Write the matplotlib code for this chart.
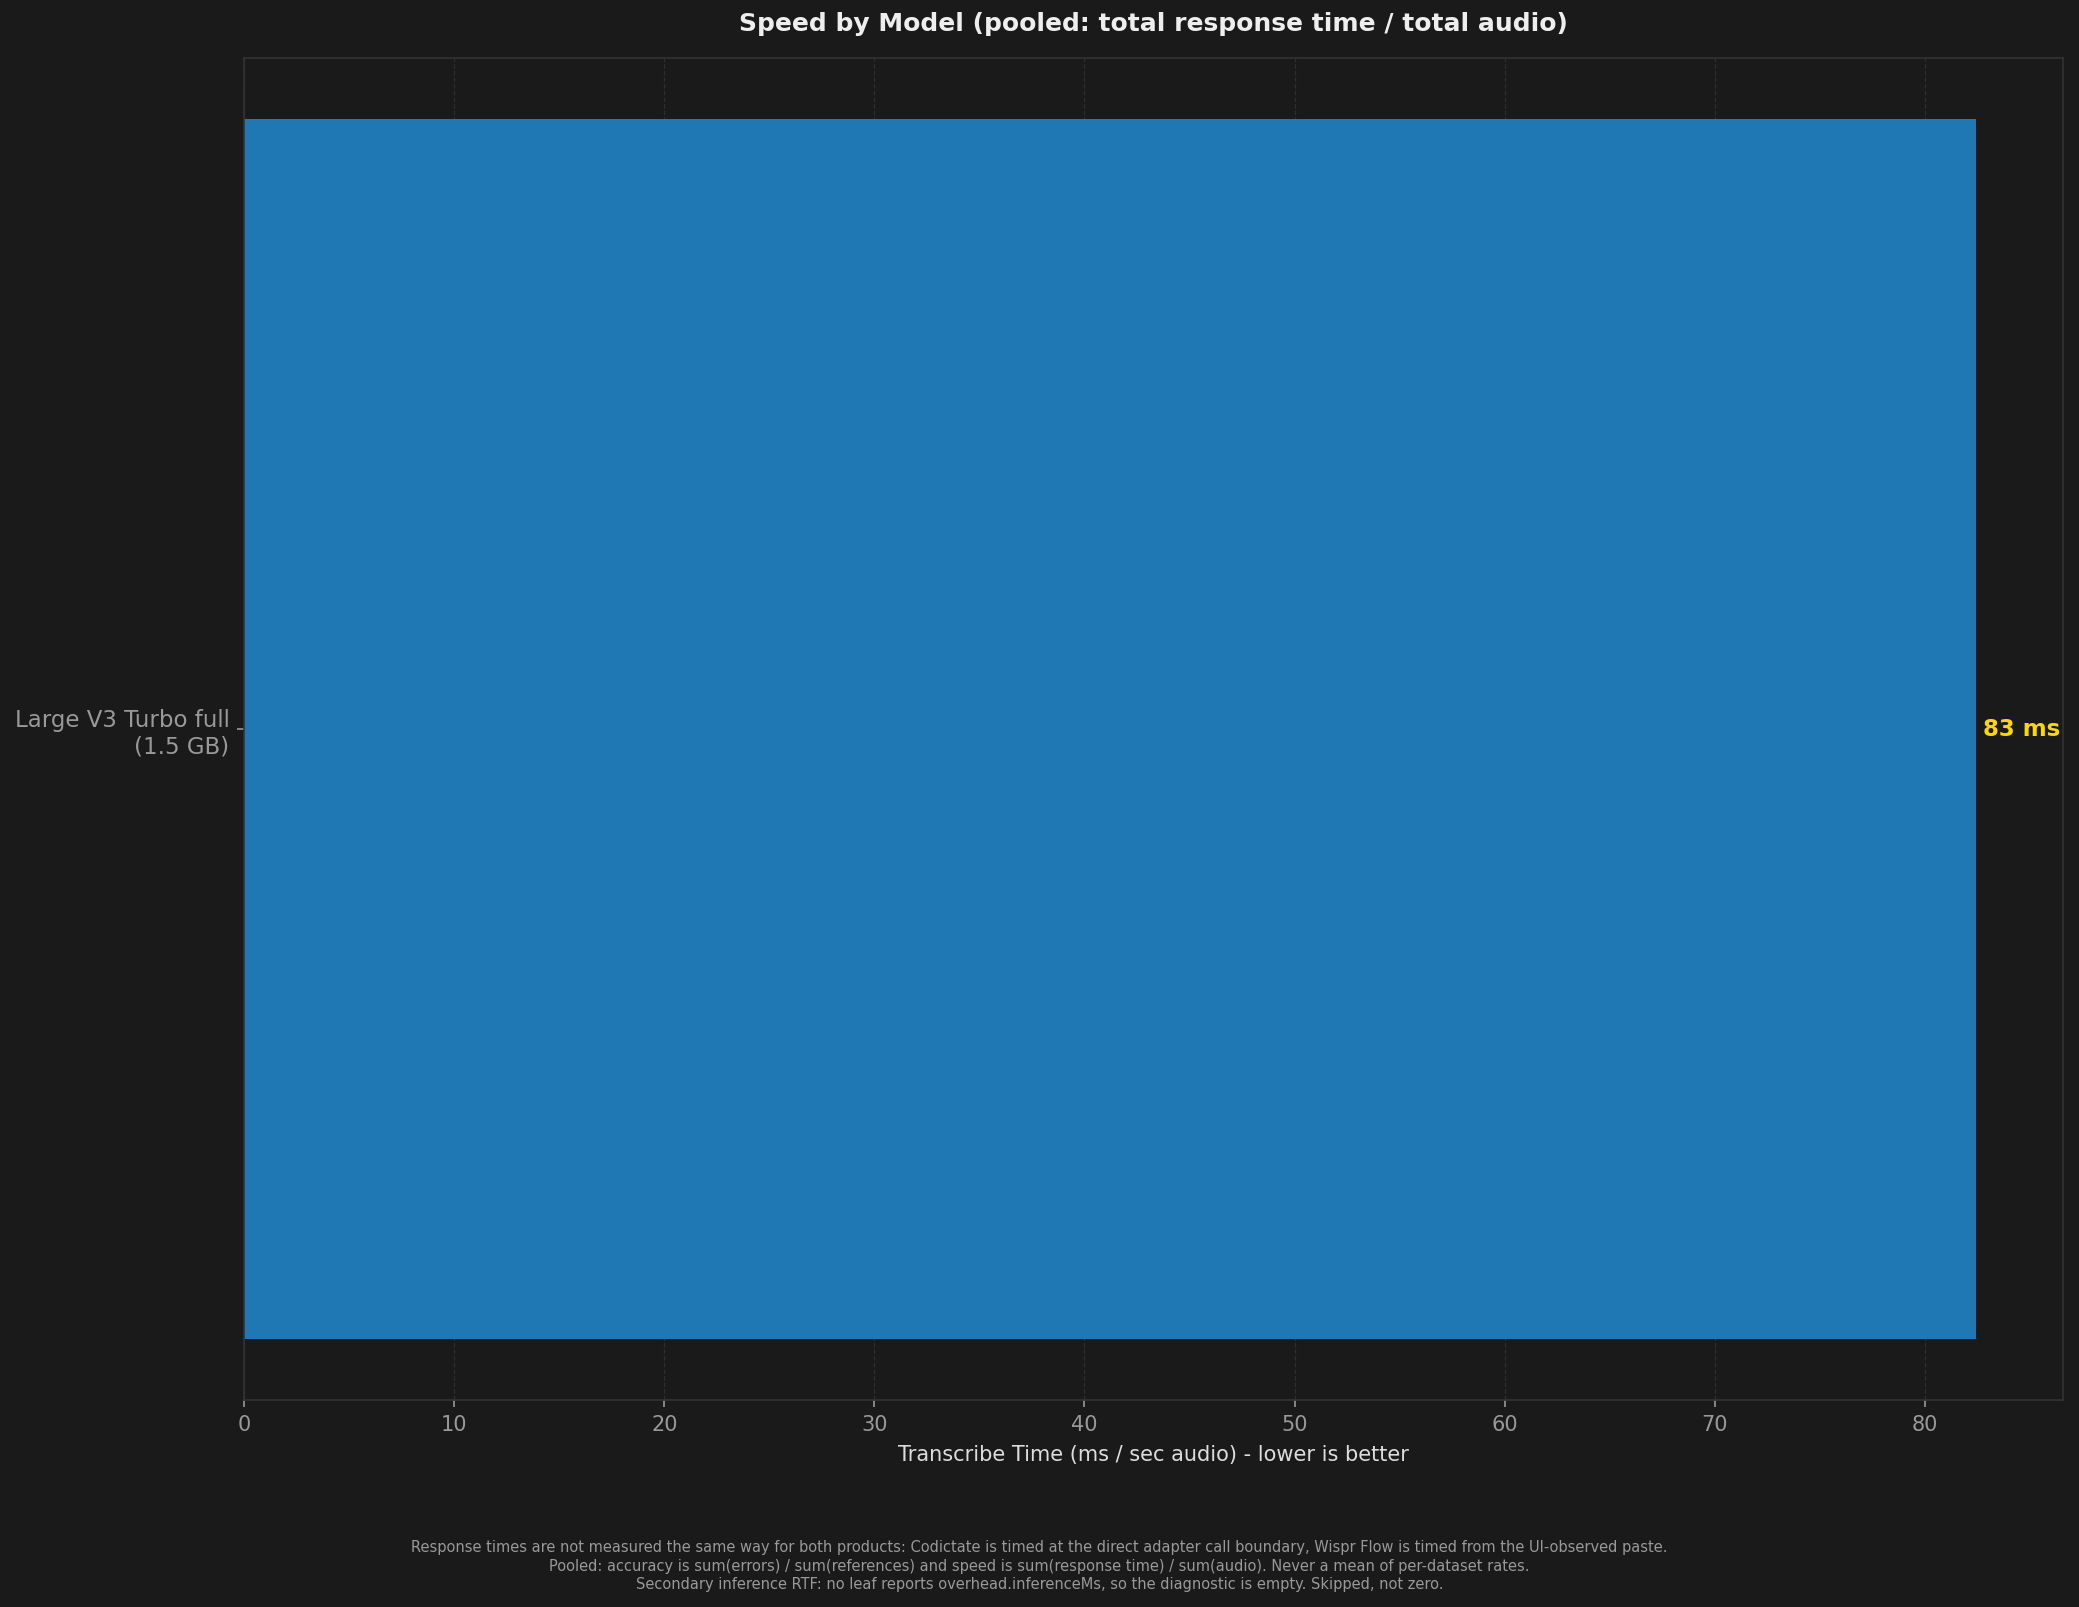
import matplotlib
matplotlib.use('Agg')
import matplotlib.pyplot as plt

# data
models = ['Large V3 Turbo full\n(1.5 GB)']
speed_ms = [82.45]
value_labels = ['83 ms']

footer = ("Response times are not measured the same way for both products: Codictate is timed at the direct "
          "adapter call boundary, Wispr Flow is timed from the UI-observed paste.\n"
          "Pooled: accuracy is sum(errors) / sum(references) and speed is sum(response time) / sum(audio). "
          "Never a mean of per-dataset rates.\n"
          "Secondary inference RTF: no leaf reports overhead.inferenceMs, so the diagnostic is empty. Skipped, not zero.")

BG = '#1a1a1a'

fig = plt.figure(figsize=(2079 / 150, 1607 / 150), dpi=150, facecolor=BG)
ax = fig.add_axes([0.1174, 0.1288, 0.8749, 0.8351])
ax.set_facecolor(BG)

bars = ax.barh(models, speed_ms, height=0.8, color='#1f77b4', zorder=2)
ax.set_xlim(0, max(speed_ms) * 1.05)

for b, lab in zip(bars, value_labels):
    ax.text(b.get_width() + 0.3, b.get_y() + b.get_height() / 2, lab,
            va='center', ha='left', color='#FFD700', fontsize=11, fontweight='bold')

ax.set_title('Speed by Model (pooled: total response time / total audio)',
             color='#eeeeee', fontsize=12, fontweight='bold', pad=13)
ax.set_xlabel('Transcribe Time (ms / sec audio) - lower is better', color='#dddddd', fontsize=10, labelpad=5)
ax.tick_params(axis='x', colors='#999999', labelsize=10)
ax.tick_params(axis='y', colors='#999999', labelsize=11)
ax.grid(axis='x', linestyle='--', color='#2e2e2e', linewidth=0.6, zorder=0)
for s in ax.spines.values():
    s.set_color('#333333')

fig.text(0.5, 0.0255, footer, ha='center', va='center', color='#999999',
         fontsize=7.0, linespacing=1.3)

fig.savefig('out.png', dpi=150, facecolor=BG)
